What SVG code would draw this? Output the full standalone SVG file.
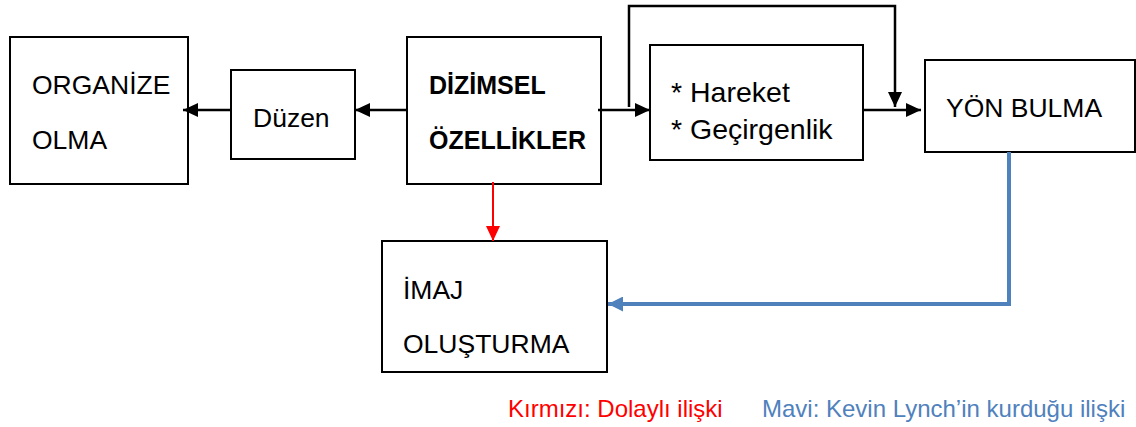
<svg xmlns="http://www.w3.org/2000/svg" width="1136" height="427" viewBox="0 0 1136 427">
<style>
.box{fill:#fff;stroke:#000;stroke-width:2}
.t{font-family:"Liberation Sans",Arial,sans-serif;font-size:26.5px;fill:#000}
.b{font-family:"Liberation Sans",Arial,sans-serif;font-size:25px;font-weight:bold;fill:#000}
.h{font-family:"Liberation Sans",Arial,sans-serif;font-size:28.5px;fill:#000}
.k{fill:none;stroke:#000;stroke-width:2.5}
.r{fill:none;stroke:#ff0000;stroke-width:2}
.bl{fill:none;stroke:#4f81bd;stroke-width:4}
.lg{font-family:"Liberation Sans",Arial,sans-serif;font-size:24px}
</style>
<defs>
<marker id="ak" markerUnits="userSpaceOnUse" markerWidth="15" markerHeight="14" refX="15" refY="7" orient="auto"><path d="M0,0 L15,7 L0,14 z" fill="#000"/></marker>
<marker id="ar" markerUnits="userSpaceOnUse" markerWidth="15" markerHeight="14" refX="15" refY="7" orient="auto"><path d="M0,0 L15,7 L0,14 z" fill="#ff0000"/></marker>
<marker id="ab" markerUnits="userSpaceOnUse" markerWidth="15" markerHeight="15" refX="15" refY="7.5" orient="auto"><path d="M0,0 L15,7.5 L0,15 z" fill="#4f81bd"/></marker>
</defs>
<g id="organize"><rect class="box" x="10" y="37" width="178" height="147"/><text class="t" x="32" y="94">ORGANİZE</text><text class="t" x="32" y="149">OLMA</text></g>
<g id="duzen"><rect class="box" x="231" y="70" width="124" height="89"/><text class="t" x="253" y="127">Düzen</text></g>
<g id="dizimsel"><rect class="box" x="407" y="37" width="194" height="147"/><text class="b" x="429" y="94">DİZİMSEL</text><text class="b" x="429" y="149">ÖZELLİKLER</text></g>
<g id="hareket"><rect class="box" x="650" y="45" width="213" height="115"/><text class="h" x="671" y="102">* Hareket</text><text class="h" x="671" y="139">* Geçirgenlik</text></g>
<g id="yon"><rect class="box" x="925" y="60" width="210" height="92"/><text class="t" x="946" y="117">YÖN BULMA</text></g>
<g id="imaj"><rect class="box" x="382" y="241" width="225" height="131"/><text class="t" x="403" y="299">İMAJ</text><text class="t" x="403" y="353">OLUŞTURMA</text></g>
<g id="connectors">
<line class="k" x1="231" y1="110" x2="183" y2="110" marker-end="url(#ak)"/>
<line class="k" x1="407" y1="110" x2="355" y2="110" marker-end="url(#ak)"/>
<line class="k" x1="598" y1="110" x2="650" y2="110" marker-end="url(#ak)"/>
<polyline class="k" points="629,107 629,6 895,6 895,107" marker-end="url(#ak)"/>
<line class="k" x1="863" y1="110" x2="921" y2="110" marker-end="url(#ak)"/>
<line class="r" x1="493" y1="182" x2="493" y2="241" marker-end="url(#ar)"/>
<polyline class="bl" points="1009,152 1009,304 608,304" marker-end="url(#ab)"/>
</g>
<g id="legend">
<text class="lg" x="508" y="417" fill="#ff0000">Kırmızı: Dolaylı ilişki</text>
<text class="lg" x="762" y="417" fill="#4f81bd">Mavi: Kevin Lynch’in kurduğu ilişki</text>
</g>
</svg>
